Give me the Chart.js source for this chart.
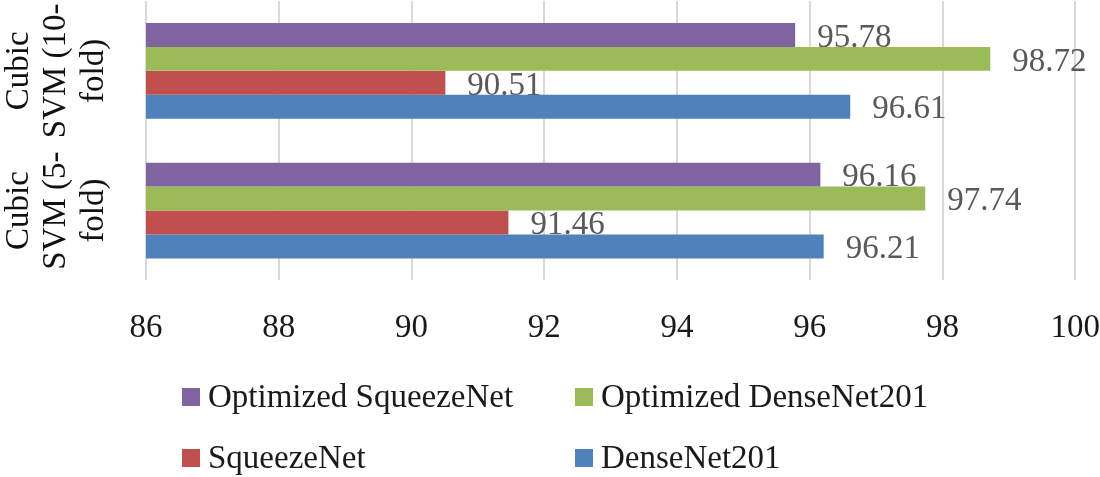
<!DOCTYPE html>
<html>
<head>
<meta charset="utf-8">
<script src="https://cdn.jsdelivr.net/npm/chart.js@4.4.1/dist/chart.umd.min.js"></script>
<style>
  html, body { margin: 0; padding: 0; background: #fff; }
  #wrap { position: relative; width: 1100px; height: 477px; }
  #legend { position: absolute; left: 0; top: 0; font-family: 'Liberation Serif', serif; font-size: 33px; color: #1a1a1a; }
  .legend-item { position: absolute; white-space: nowrap; height: 40px; }
  .legend-dot { position: absolute; left: 0; top: 12px; width: 18px; height: 18px; }
  .legend-txt { position: absolute; left: 26px; top: 0; line-height: 40px; }
</style>
</head>
<body>
<div id="wrap">
  <canvas id="c" width="1100" height="477"></canvas>
  <div id="legend"></div>
</div>
<script>
'use strict';

/* ── Data ─────────────────────────────────────────── */

var categories = [
  ['Cubic', 'SVM (10-', 'fold)'],
  ['Cubic', 'SVM (5-', 'fold)']
];
var seriesNames  = ['Optimized SqueezeNet', 'Optimized DenseNet201', 'SqueezeNet', 'DenseNet201'];
var seriesColors = ['#8064A2', '#9BBB59', '#C0504D', '#4F81BD'];
var optSqueeze   = [95.78, 96.16];
var optDense     = [98.72, 97.74];
var squeeze      = [90.51, 91.46];
var dense        = [96.61, 96.21];
var xTicks       = [86, 88, 90, 92, 94, 96, 98, 100];

var FONT = "'Liberation Serif', 'Times New Roman', serif";

/* ── Plugins ──────────────────────────────────────── */

/* value labels right of each bar end; painted before the bars
   so neighbouring bars sit on top of them, like the original */
var valueLabels = {
  id: 'valueLabels',
  beforeDatasetsDraw: function (chart) {
    var ctx = chart.ctx;
    ctx.save();
    ctx.font = '33px ' + FONT;
    ctx.fillStyle = '#595959';
    ctx.textAlign = 'left';
    ctx.textBaseline = 'middle';
    chart.data.datasets.forEach(function (ds, di) {
      chart.getDatasetMeta(di).data.forEach(function (bar, i) {
        ctx.fillText(ds.data[i].toFixed(2), bar.x + 22, bar.y + 3);
      });
    });
    ctx.restore();
  }
};

/* rotated, wrapped category labels on the left */
var catLabels = {
  id: 'catLabels',
  afterDraw: function (chart) {
    var ctx = chart.ctx;
    var y = chart.scales.y;
    var baselines = [28, 65, 103];
    ctx.save();
    ctx.font = '33px ' + FONT;
    ctx.fillStyle = '#111';
    ctx.textAlign = 'center';
    ctx.textBaseline = 'alphabetic';
    categories.forEach(function (lines, i) {
      var cy = y.getPixelForValue(i);
      lines.forEach(function (line, li) {
        ctx.save();
        ctx.translate(baselines[li], cy);
        ctx.rotate(-Math.PI / 2);
        ctx.fillText(line, 0, 0);
        ctx.restore();
      });
    });
    ctx.restore();
  }
};

/* ── Chart ────────────────────────────────────────── */

var allSeries = [optSqueeze, optDense, squeeze, dense];

var chart = new Chart(document.getElementById('c'), {
  type: 'bar',
  data: {
    labels: categories.map(function (l) { return l.join(' '); }),
    datasets: allSeries.map(function (vals, i) {
      return {
        label: seriesNames[i],
        data: vals,
        backgroundColor: seriesColors[i],
        categoryPercentage: 0.686,
        barPercentage: 1.0
      };
    })
  },
  options: {
    indexAxis: 'y',
    responsive: false,
    animation: false,
    devicePixelRatio: 1,
    layout: { padding: { left: 146, top: 1, right: 0, bottom: 129 } },
    plugins: {
      legend: { display: false },
      tooltip: { enabled: false }
    },
    scales: {
      x: {
        min: 86,
        max: 100,
        afterBuildTicks: function (axis) {
          axis.ticks = xTicks.map(function (v) { return { value: v }; });
        },
        grid: { color: '#d9d9d9', lineWidth: 2, drawTicks: true, tickLength: 28, tickColor: 'rgba(0,0,0,0)' },
        border: { display: false },
        ticks: {
          color: '#1a1a1a',
          padding: 0,
          maxRotation: 0,
          font: { family: FONT, size: 33 }
        }
      },
      y: {
        display: false
      }
    }
  },
  plugins: [valueLabels, catLabels]
});

/* ── Legend (two columns) ─────────────────────────── */

var legendEl = document.getElementById('legend');
var legendPos = [[182, 376], [575, 376], [182, 437], [575, 437]];
legendEl.innerHTML = seriesNames.map(function (name, i) {
  return '<div class="legend-item" style="left:' + legendPos[i][0] + 'px;top:' + legendPos[i][1] + 'px">' +
    '<span class="legend-dot" style="background:' + seriesColors[i] + '"></span>' +
    '<span class="legend-txt">' + name + '</span>' +
    '</div>';
}).join('');
</script>
</body>
</html>
